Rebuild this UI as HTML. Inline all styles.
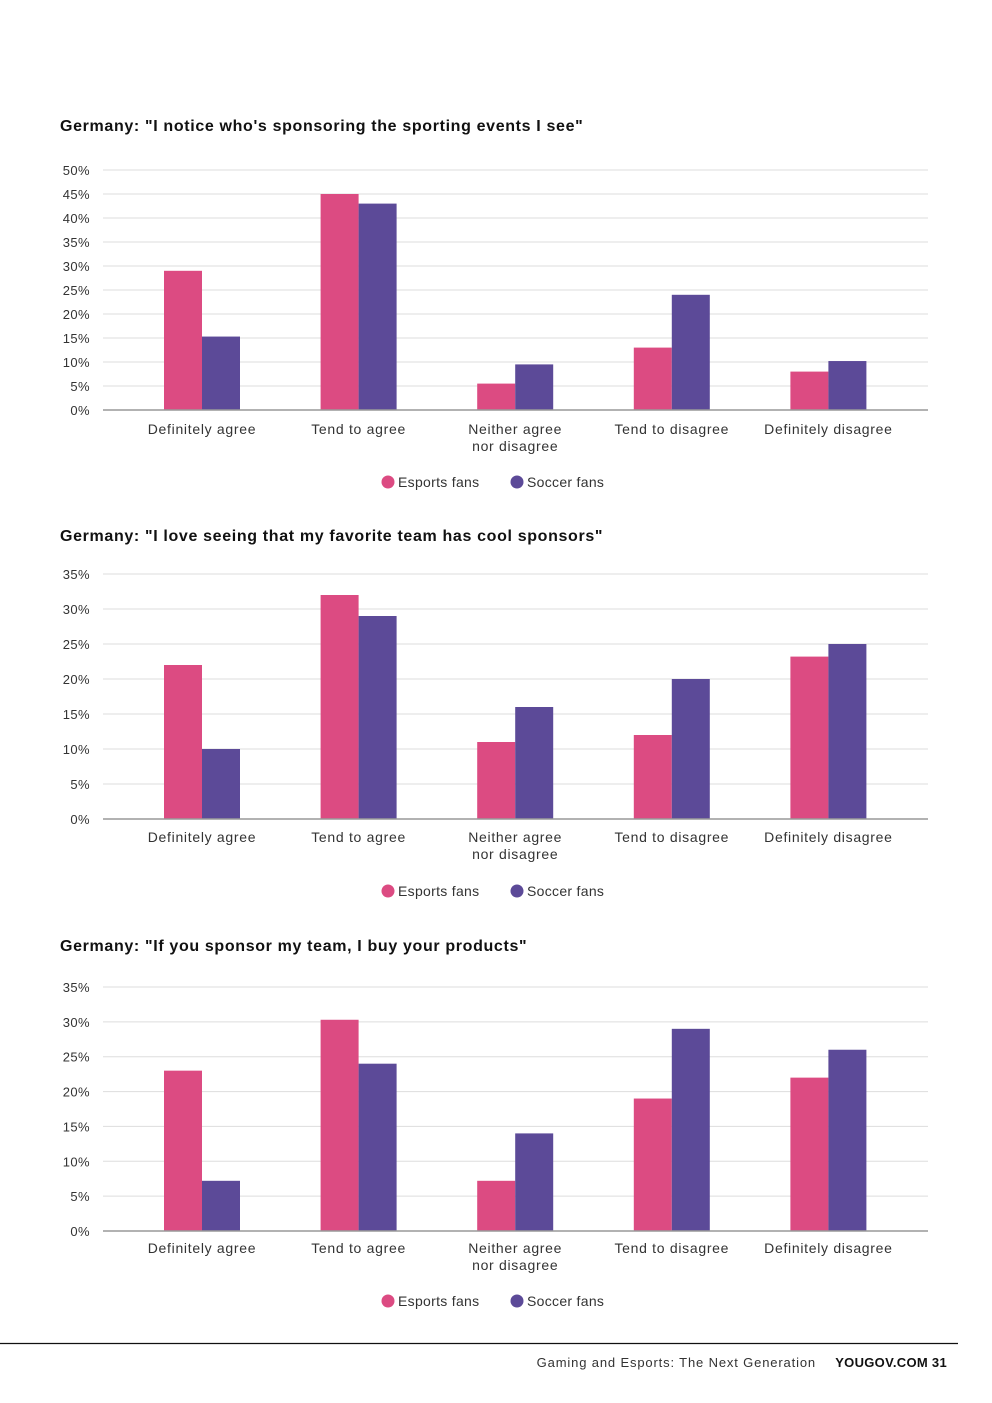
<!DOCTYPE html>
<html><head><meta charset="utf-8"><style>
body{margin:0;background:#fff;width:992px;height:1403px;overflow:hidden;font-family:"Liberation Sans",sans-serif}
svg{position:absolute;left:0;top:0}
</style></head><body>
<svg id="s" width="992" height="1403"></svg>
<script>
const categories=[["Definitely agree"],["Tend to agree"],["Neither agree","nor disagree"],["Tend to disagree"],["Definitely disagree"]];
const titles=['Germany: "I notice who\'s sponsoring the sporting events I see"','Germany: "I love seeing that my favorite team has cool sponsors"','Germany: "If you sponsor my team, I buy your products"'];
const esports1=[29,45,5.5,13,8];
const soccer1=[15.3,43,9.5,24,10.2];
const esports2=[22,32,11,12,23.2];
const soccer2=[10,29,16,20,25];
const esports3=[23,30.3,7.2,19,22];
const soccer3=[7.2,24,14,29,26];
const maxes=[50,35,35];
const steps=[5,5,5];
const seriesNames=["Esports fans","Soccer fans"];
const colors=["#dc4b82","#5c4a98"];
const layout=[{title:126,top:170,bottom:410,catY:429,leg:482},{title:536,top:574,bottom:819,catY:837,leg:891},{title:946,top:987,bottom:1231,catY:1248,leg:1301}];
const data=[[esports1,soccer1],[esports2,soccer2],[esports3,soccer3]];
const NS="http://www.w3.org/2000/svg";const svg=document.getElementById('s');
function mk(t,a,p){const e=document.createElementNS(NS,t);for(const k in a)e.setAttribute(k,a[k]);(p||svg).appendChild(e);return e;}
const x0=103,x1=928;
function xc(i){return 202+i*156.6;}
for(let c=0;c<3;c++){
 const L=layout[c];const g=mk('g',{});
 
 
 const y=v=>L.bottom-(v/maxes[c])*(L.bottom-L.top);
 const t=mk('text',{x:60,y:L.title+5,'font-size':16,'font-weight':'bold',fill:'#111','letter-spacing':0.65},g);t.textContent=titles[c];
 
 
 for(let v=0;v<=maxes[c];v+=steps[c]){
  if(v>0)mk('line',{x1:x0,x2:x1,y1:y(v),y2:y(v),stroke:'#ddd','stroke-width':1},g);
  const tl=mk('text',{x:90,y:y(v)+5,'text-anchor':'end','font-size':13,fill:'#333','letter-spacing':0.4},g);tl.textContent=v+'%';
  
  
 }
 for(let i=0;i<5;i++){
  for(let s=0;s<2;s++){
   const v=data[c][s][i];
   const r=mk('rect',{x:xc(i)-38+s*38,y:y(v),width:38,height:L.bottom-y(v),fill:colors[s]},g);
   
   
  }
  categories[i].forEach((ln,k)=>{const ct=mk('text',{x:xc(i),y:L.catY+5+k*17,'text-anchor':'middle','font-size':14,fill:'#333','letter-spacing':0.7},g);ct.textContent=ln;
   
   });
 }
 mk('line',{x1:x0,x2:x1,y1:L.bottom,y2:L.bottom,stroke:'#999','stroke-width':1.5},g);
 const lx=[388,517];
 for(let s=0;s<2;s++){
  const lg=mk('g',{},g);
  
  
  mk('circle',{cx:lx[s],cy:L.leg,r:6.5,fill:colors[s]},lg);
  const lt=mk('text',{x:lx[s]+10,y:L.leg+5,'font-size':14,fill:'#333','letter-spacing':0.3},lg);lt.textContent=seriesNames[s];
 }
}
mk('line',{x1:0,x2:958,y1:1343.5,y2:1343.5,stroke:'#111','stroke-width':1.2});
const f1=mk('text',{x:816,y:1367,'text-anchor':'end','font-size':13,fill:'#333','letter-spacing':0.85});f1.textContent='Gaming and Esports: The Next Generation';


const f2=mk('text',{x:947,y:1367,'text-anchor':'end','font-size':13,'font-weight':'bold',fill:'#111','letter-spacing':0.3});f2.textContent='YOUGOV.COM  31';
f2.setAttribute('xml:space','preserve');


</script>
</body></html>
